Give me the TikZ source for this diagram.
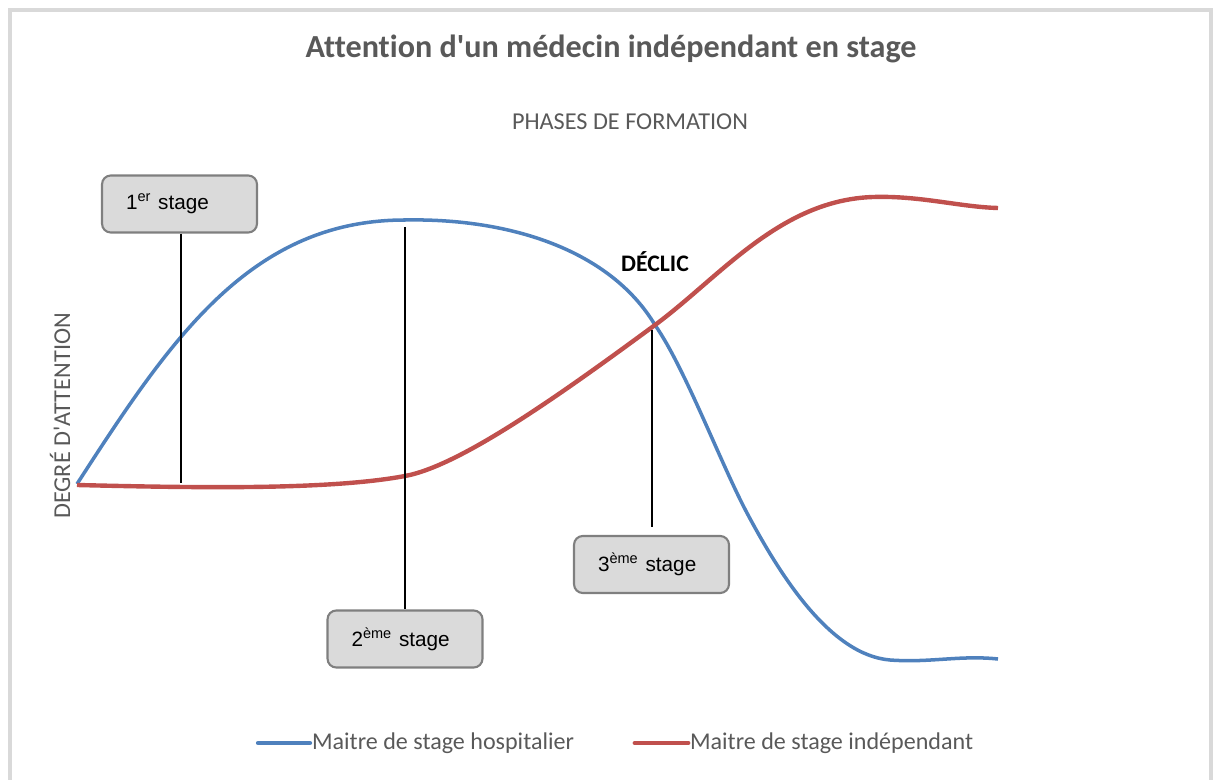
\documentclass[tikz,border=0pt]{standalone}
\usepackage{fontspec}
\setmainfont{Carlito}[Ligatures={TeXOff,CommonOff}]
\newfontfamily\arialfont{Liberation Sans}
\usetikzlibrary{positioning}
\definecolor{hospblue}{HTML}{4F81BD}
\definecolor{indepred}{HTML}{C0504D}
\definecolor{txtgray}{HTML}{595959}
\definecolor{boxgray}{HTML}{DADADA}
\definecolor{boxedge}{HTML}{7F7F7F}
\definecolor{framegray}{HTML}{D9D9D9}
\tikzset{
  stagebox/.style={draw=boxedge, line width=1.2pt, fill=boxgray, rounded corners=5pt,
    text width=2.14cm, inner xsep=0.48cm, align=left,
    minimum height=1.14cm, font=\arialfont\fontsize{11.8}{14}\selectfont},
  bluecurve/.style={line width=2pt, hospblue},
  redcurve/.style={line width=2.5pt, indepred},
  marker/.style={line width=0.7pt, black}
}
\begin{document}
\begin{tikzpicture}[x=0.02cm,y=-0.02cm]
		\useasboundingbox (0,0) rectangle (1214,780);
		\draw[framegray, line width=2pt] (10,10) rectangle (1211,800);
		\node[txtgray, font=\bfseries\fontsize{18.3}{22}\selectfont] (title) at (611,49) {Attention d'un médecin indépendant en stage};
		\node[txtgray, font=\fontsize{13.8}{16}\selectfont] (phases) at (630,122) {PHASES DE FORMATION};
		\node[txtgray, rotate=90, font=\fontsize{13.8}{16}\selectfont] (yaxis) at (60,416) {DEGRÉ D'ATTENTION};
		\draw[bluecurve] (77,484) .. controls (170,340) and (250,220) .. (405,220)
		  .. controls (510,218) and (610,250) .. (655,325)
		  .. controls (685,368) and (720,462) .. (747,513)
		  .. controls (780,575) and (830,655) .. (890,660)
		  .. controls (930,663) and (960,655) .. (998,659);
		\draw[redcurve] (77,485) .. controls (200,488) and (330,490) .. (405,476)
		  .. controls (460,466) and (560,395) .. (655,325)
		  .. controls (720,277) and (780,200) .. (873,197)
		  .. controls (920,195.5) and (960,207) .. (998,208);
		\coordinate (blue1) at (405,227);
		\coordinate (red1) at (181,483);
		\coordinate (cross) at (652,330);
		\coordinate (low3) at (652,527);
		\node[stagebox] (stage1) at (179.5,204) {1\textsuperscript{er} stage};
		\node[stagebox] (stage2) at (405,639) {2\textsuperscript{ème} stage};
		\node[stagebox] (stage3) at (651.5,564.5) {3\textsuperscript{ème} stage};
		\draw[marker] (stage1.south -| red1) -- (red1);
		\draw[marker] (blue1) -- (stage2.north);
		\draw[marker] (cross) -- (low3);
		\node[font=\bfseries\fontsize{13.5}{16}\selectfont] (declic) at (655,262) {DÉCLIC};
		\draw[bluecurve, line width=2.4pt, line cap=round] (258,743) coordinate (leg1a) -- (310,743) coordinate (leg1b);
		\node[txtgray, anchor=west, inner sep=1pt, font=\fontsize{13.7}{16}\selectfont] (leg1) at (leg1b) {Maitre de stage hospitalier};
		\draw[redcurve, line width=2.8pt, line cap=round] (635,743) coordinate (leg2a) -- (688,743) coordinate (leg2b);
		\node[txtgray, anchor=west, inner sep=1pt, font=\fontsize{13.7}{16}\selectfont] (leg2) at (leg2b) {Maitre de stage indépendant};
	\end{tikzpicture}
\end{document}
